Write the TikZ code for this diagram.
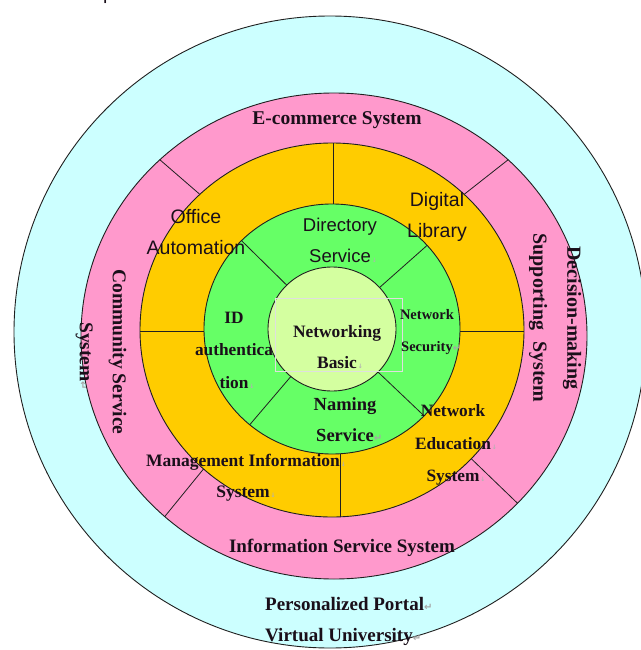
\documentclass[tikz,border=0pt]{standalone}
\usepackage{fontspec}
\usetikzlibrary{calc}
\setmainfont{Liberation Serif}
\newfontfamily\arialf{Liberation Sans}
\newfontfamily\dejavu{DejaVu Sans}
\definecolor{cyanbg}{HTML}{CCFFFF}
\definecolor{pinkbg}{HTML}{FF99CC}
\definecolor{orangebg}{HTML}{FFCC00}
\definecolor{greenbg}{HTML}{66FF66}
\definecolor{corebg}{HTML}{D4FFA0}
\definecolor{ink}{HTML}{1A0F1A}
\definecolor{edge}{HTML}{202020}
\newcommand{\retm}{\rlap{\color{gray!70}\dejavu\fontsize{10}{10}\selectfont ↵}}
\newcommand{\smm}{\rlap{\color{gray!60}\dejavu\fontsize{6}{6}\selectfont\,↓}}
\begin{document}
\begin{tikzpicture}[x=1pt,y=-1pt,
  ring/.style={draw=edge, line width=0.9pt},
  div/.style={draw=edge, line width=0.8pt},
  lbl/.style={text=ink, align=center, inner sep=0pt, font=\bfseries\fontsize{19}{31}\selectfont},
  sanslbl/.style={text=ink, align=center, inner sep=0pt, font=\arialf\fontsize{19.5}{31}\selectfont}]
\useasboundingbox (0,0) rectangle (640,650);
\fill[white] (0,0) rectangle (640,650);
% rings
\filldraw[ring, fill=cyanbg] (330,332) circle [radius=316pt];
\filldraw[ring, fill=pinkbg] (334,336) ellipse [x radius=253pt, y radius=243pt];
\filldraw[ring, fill=orangebg] (332,330) ellipse [x radius=192pt, y radius=187pt];
\filldraw[ring, fill=greenbg] (332,329) ellipse [x radius=128pt, y radius=125pt];
\filldraw[ring, fill=corebg] (332,329) ellipse [x radius=64pt, y radius=62pt];
% pink ring dividers
\foreach \a in {133.5,46.5,-132,-43.5}{
  \draw[div] ($(332,330)+(\a:192pt and 187pt)$) -- ($(334,336)+(\a:253pt and 243pt)$);
}
% orange ring dividers
\draw[div] (333,143) -- (333,204);
\draw[div] (140,331) -- (204,331);
\draw[div] (460,331) -- (524,331);
\draw[div] (340,454) -- (340,517);
% green ring dividers
\foreach \a in {135,42,-130,-44}{
  \draw[div] ($(332,329)+(\a:64pt and 62pt)$) -- ($(332,329)+(\a:128pt and 125pt)$);
}
% faint text box
\draw[white!75!gray, line width=0.6pt] (275,298) rectangle (402,371);
% labels
\node[sanslbl, anchor=base west] (partial) at (103,-0.5) {p};
\node[lbl, font=\bfseries\fontsize{19.5}{31}\selectfont] (ecom) at (337,120) {E-commerce System};
\node[lbl] (info) at (342,548) {Information Service System};
\node[lbl, align=left, anchor=west] (portal) at (265,621) {Personalized Portal\retm\\Virtual University\retm};
\node[lbl, rotate=-90, font=\bfseries\fontsize{19.5}{33}\selectfont] (community) at (101,352) {Community Service\\System\retm};
\node[lbl, rotate=-90, font=\bfseries\fontsize{20}{34}\selectfont] (decision) at (555,318) {Decision-making\\Supporting\hspace{0.55em}System};
\node[sanslbl] (office) at (196,232) {Office\\Automation};
\node[sanslbl] (digital) at (437,217) {Digital\\Library};
\node[sanslbl, font=\arialf\fontsize{18.5}{31}\selectfont] (directory) at (340,240) {Directory\\Service\smm};
\node[lbl, font=\bfseries\fontsize{17.3}{32.5}\selectfont] (idauth) at (234,350) {ID\\authentica\\tion\smm};
\node[lbl, font=\bfseries\fontsize{17.4}{31}\selectfont] (core) at (337,347) {Networking\\Basic\smm};
\node[lbl, font=\bfseries\fontsize{14.5}{32}\selectfont] (netsec) at (427,332) {Network\\Security\retm};
\node[lbl, font=\bfseries\fontsize{18.5}{31}\selectfont] (naming) at (345,420) {Naming\\Service\retm};
\node[lbl, font=\bfseries\fontsize{17.3}{32.5}\selectfont] (netedu) at (453,445) {Network\\Education\smm\\System\smm};
\node[lbl, font=\bfseries\fontsize{17.5}{31}\selectfont] (mis) at (243,478) {Management Information\smm\\System\smm};
\end{tikzpicture}
\end{document}
